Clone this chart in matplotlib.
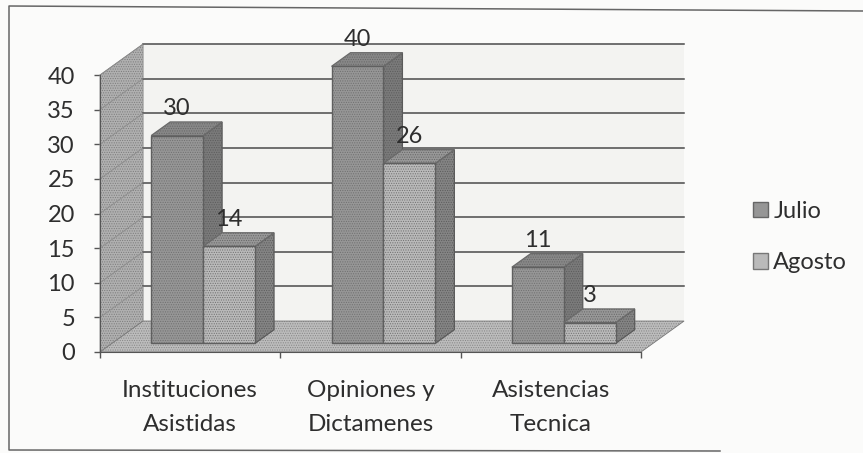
import matplotlib
matplotlib.use('Agg')
import matplotlib.pyplot as plt
from matplotlib.lines import Line2D
from matplotlib.patches import Polygon, Patch

categories = ['Instituciones\nAsistidas', 'Opiniones y\nDictamenes', 'Asistencias\nTecnica']
julio = [30, 40, 11]
agosto = [14, 26, 3]
yticks = [0, 5, 10, 15, 20, 25, 30, 35, 40]

plt.rcParams['font.family'] = ['Lato', 'DejaVu Sans']
plt.rcParams['hatch.linewidth'] = 0.5

W, H = 863, 453
# depth of the fake 3d box, in data units (categories / values)
DX = 43 / 180.0
DY = 31 / 6.93
BAR_W = 0.288
GAP = 0.217
D0, D1 = 0.28, 0.72
TEXT = '#2e2e2e'
SPECKLE = '.......'


def pt(x, v, d=0.0):
    return (x + d * DX, v + d * DY)


def face(ax, pts, fc, speck, edge, zorder=5, lw=0.9):
    # speckle is the hatch of a borderless patch, the outline is drawn apart
    ax.add_patch(Polygon(pts, fc=fc, ec=speck, lw=0, hatch=SPECKLE, clip_on=False, zorder=zorder))
    ax.add_patch(Polygon(pts, fill=False, ec=edge, lw=lw, clip_on=False, zorder=zorder))


def box(ax, x0, x1, v, front, side, top):
    face(ax, [pt(x1, 0, D0), pt(x1, 0, D1), pt(x1, v, D1), pt(x1, v, D0)],
         side, '#5c5c5c', '#5a5a5a')
    face(ax, [pt(x0, v, D0), pt(x1, v, D0), pt(x1, v, D1), pt(x0, v, D1)],
         top, '#666666', '#6a6a6a')
    face(ax, [pt(x0, 0, D0), pt(x1, 0, D0), pt(x1, v, D0), pt(x0, v, D0)],
         front, '#707070', '#5f5f5f', lw=1.0)


fig = plt.figure(figsize=(W / 100, H / 100), dpi=100, facecolor='#fbfbfa')
ax = fig.add_axes([100 / W, 1 - 352 / H, 541 / W, 277 / H])
ax.set_xlim(0, 3)
ax.set_ylim(0, 40)
ax.patch.set_alpha(0)

# scanned frame: left, top and bottom only, a bit skewed
frame_x = [863 / W, 9 / W, 9 / W, 720 / W]
frame_y = [1 - 11 / H, 1 - 6 / H, 1 - 450 / H, 1 - 451 / H]
fig.add_artist(Line2D(frame_x, frame_y, color='#666666', lw=1.1, transform=fig.transFigure))

# walls and floor
ax.add_patch(Polygon([pt(0, 0, 1), pt(3, 0, 1), pt(3, 40, 1), pt(0, 40, 1)],
                     fc='#f3f3f1', ec='none', clip_on=False, zorder=1))
face(ax, [pt(0, 0), pt(0, 0, 1), pt(0, 40, 1), pt(0, 40)], '#b0b0b0', '#7c7c7c', '#8a8a8a', zorder=2, lw=0.6)
face(ax, [pt(0, 0), pt(3, 0), pt(3, 0, 1), pt(0, 0, 1)], '#bcbcbc', '#868686', '#777777', zorder=2, lw=0.6)

for v in yticks:
    if v == 0:
        continue
    xs, ys = zip(pt(0, v, 1), pt(3, v, 1))
    ax.plot(xs, ys, color='#4a4a4a', lw=1.1, clip_on=False, zorder=3)
    xs, ys = zip(pt(0, v), pt(0, v, 1))
    ax.plot(xs, ys, color='#8c8c8c', lw=0.6, clip_on=False, zorder=3)

for i in range(len(categories)):
    x0 = i + GAP
    box(ax, x0, x0 + BAR_W, julio[i], '#969696', '#7a7a7a', '#888888')
    box(ax, x0 + BAR_W, x0 + 2 * BAR_W, agosto[i], '#bababa', '#848484', '#989898')
    for j, val in enumerate([julio[i], agosto[i]]):
        xc = x0 + BAR_W * (j + 0.5)
        xy = pt(xc, val, D0)
        ax.annotate(str(val), xy=xy, xytext=(0, 19.5), textcoords='offset points',
                    ha='center', va='center', fontsize=17, color=TEXT,
                    annotation_clip=False, zorder=6)

ax.set_yticks(yticks)
ax.set_xticks([0, 1, 2, 3])
ax.set_xticklabels([])
ax.set_xticks([0.5, 1.5, 2.5], labels=categories, minor=True)
ax.tick_params(axis='both', which='major', length=4, width=1, color='#555555')
ax.tick_params(axis='x', which='minor', length=0, pad=20, labelsize=17.5, labelcolor=TEXT)
ax.tick_params(axis='y', labelsize=17, labelcolor=TEXT, pad=14)
for lab in ax.get_xticklabels(minor=True):
    lab.set_linespacing(1.8)
for s in ['top', 'right']:
    ax.spines[s].set_visible(False)
for s in ['left', 'bottom']:
    ax.spines[s].set_color('#555555')
    ax.spines[s].set_zorder(4)

handles = [Patch(fc='#969696', ec='#666666', label='Julio'),
           Patch(fc='#bababa', ec='#777777', label='Agosto')]
fig.legend(handles=handles, loc='center left', bbox_to_anchor=(739 / W, 1 - 237 / H),
           frameon=False, fontsize=17, labelcolor=TEXT, handlelength=0.63,
           handleheight=0.63, handletextpad=0.22, labelspacing=1.3,
           borderpad=0, borderaxespad=0.6)

fig.savefig('out.png', dpi=100, facecolor=fig.get_facecolor())
